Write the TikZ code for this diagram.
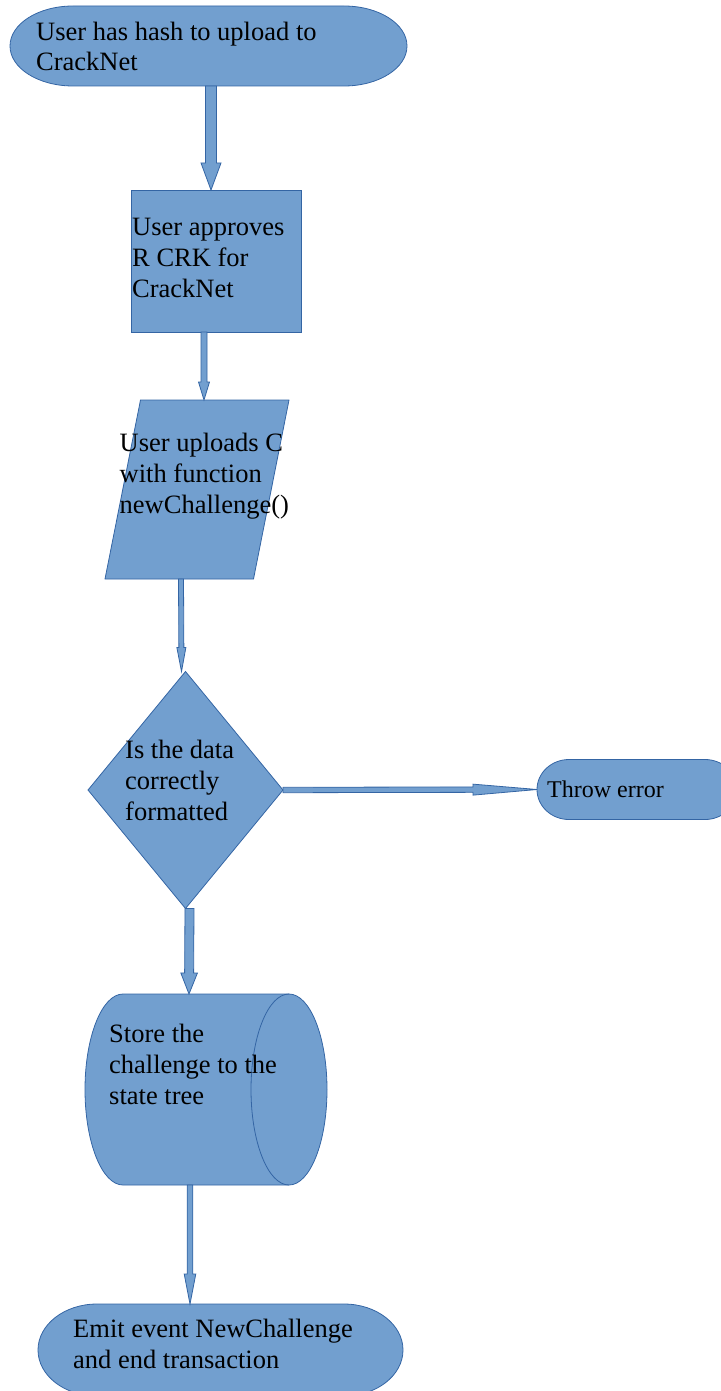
\documentclass[tikz,border=0pt]{standalone}
\usepackage{fontspec}
\setmainfont{Liberation Serif}
\usetikzlibrary{shapes.geometric, calc}

\definecolor{chartfill}{HTML}{729FCF}
\definecolor{chartline}{HTML}{3465A4}

\begin{document}
\begin{tikzpicture}[x=1pt, y=-1pt]
  \newcommand\chartfont{\fontsize{26.5}{30.7}\selectfont}
  \newcommand\smallchartfont{\fontsize{24}{28}\selectfont}

  \tikzset{shapefill/.style={fill=chartfill, draw=chartline, line width=0.8pt}}
  \tikzset{shapebox/.style={shapefill, inner sep=0pt, outer sep=0pt}}
  \tikzset{helperbox/.style={inner sep=0pt, outer sep=0pt}}
  \tikzset{steptext/.style={anchor=base west, inner sep=0pt, align=left, font=\chartfont}} % base = last line

  % terminator with half-ellipse ends, drawn round an empty box node
  \newcommand\terminalpath[3]{
    \filldraw[shapefill] ([xshift=#2]#1.north west) -- ([xshift=-#2]#1.north east)
      arc[start angle=90, end angle=-90, x radius=#2, y radius=#3]
      -- ([xshift=#2]#1.south west)
      arc[start angle=270, end angle=90, x radius=#2, y radius=#3] -- cycle;
  }
  % slanted data box
  \newcommand\parallelpath[2]{
    \filldraw[shapefill] ([xshift=#2]#1.north west) -- (#1.north east)
      -- ([xshift=-#2]#1.south east) -- (#1.south west) -- cycle;
  }
  % lying cylinder (direct access storage)
  \newcommand\cylinderpath[3]{
    \filldraw[shapefill] ([xshift=#2]#1.north west) -- ([xshift=-#2]#1.north east)
      arc[start angle=90, end angle=-90, x radius=#2, y radius=#3]
      -- ([xshift=#2]#1.south west)
      arc[start angle=270, end angle=90, x radius=#2, y radius=#3] -- cycle;
    \draw[shapefill, fill=none] ([xshift=-#2]#1.north east)
      arc[start angle=90, end angle=270, x radius=#2, y radius=#3];
  }
  % block arrow: from, to, half shaft, half head, head length
  \newcommand\blockarrow[5]{
    \coordinate (arrow-from) at (#1);
    \coordinate (arrow-to) at (#2);
    \coordinate (arrow-head) at ($(arrow-to)!#5!(arrow-from)$);
    \filldraw[shapefill] ($(arrow-from)!#3!90:(arrow-to)$) -- ($(arrow-head)!#3!90:(arrow-to)$)
      -- ($(arrow-head)!#4!90:(arrow-to)$) -- (arrow-to)
      -- ($(arrow-head)!#4!-90:(arrow-to)$) -- ($(arrow-head)!#3!-90:(arrow-to)$)
      -- ($(arrow-from)!#3!-90:(arrow-to)$) -- cycle;
  }

  \useasboundingbox (0,0) rectangle (720,1391);

  \node[helperbox, minimum width=397, minimum height=80] at (208.5, 46) (start) {};
  \terminalpath{start}{63pt}{40pt}
  \node[steptext] at (36, 71) (start-txt) {User has hash to upload to\\CrackNet};

  \node[shapebox, minimum width=170, minimum height=142] at (216, 261) (approve) {};
  \node[steptext] at (132, 297) (approve-txt) {User approves\\R CRK for\\CrackNet};

  \node[helperbox, minimum width=184, minimum height=179] at (197, 489.5) (upload) {};
  \parallelpath{upload}{35.5pt}
  \node[steptext] at (119.5, 513) (upload-txt) {User uploads C\\with function\\newChallenge()};

  \node[shapebox, diamond, aspect=0.82, minimum width=195, minimum height=237] at (185.5, 790) (check) {};
  \node[steptext] at (125, 820) (check-txt) {Is the data\\correctly\\formatted};

  \node[helperbox, minimum width=200, minimum height=60] at (637, 789.5) (throw) {};
  \terminalpath{throw}{32pt}{30pt}
  \node[steptext, font=\smallchartfont] at (547, 797) (throw-txt) {Throw error};

  \node[helperbox, minimum width=242, minimum height=191] at (206, 1089.5) (store) {};
  \cylinderpath{store}{38pt}{95.5pt}
  \node[steptext] at (109, 1104) (store-txt) {Store the\\challenge to the\\state tree};

  \node[helperbox, minimum width=365, minimum height=92] at (220.5, 1350) (finish) {};
  \terminalpath{finish}{59pt}{46pt}
  \node[steptext] at (73, 1368) (finish-txt) {Emit event NewChallenge\\and end transaction};

  \blockarrow{[xshift=2.5pt]start.south}{[xshift=-5pt]approve.north}{5.5pt}{10pt}{27pt}
  \blockarrow{[xshift=-12pt]approve.south}{[xshift=7pt]upload.north}{3pt}{5.5pt}{18pt}
  \blockarrow{[xshift=-16pt]upload.south}{[xshift=-4pt]check.north}{2.5pt}{4.5pt}{24pt}
  \blockarrow{check.east}{throw.west}{2.7pt}{5.5pt}{64pt}
  \blockarrow{[xshift=4pt]check.south}{[xshift=-17pt]store.north}{4.5pt}{8.3pt}{21pt}
  \blockarrow{[xshift=-16pt]store.south}{[xshift=-30.5pt]finish.north}{2.8pt}{5.8pt}{30pt}
\end{tikzpicture}
\end{document}
